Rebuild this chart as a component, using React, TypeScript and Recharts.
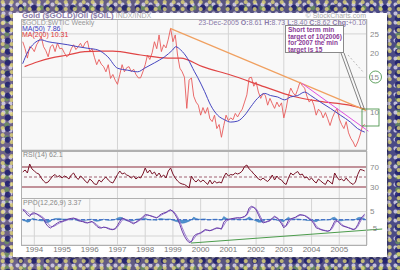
import React from 'react';
import { ComposedChart, Line, Area, XAxis, YAxis, CartesianGrid, ReferenceLine } from 'recharts';

// monthly closes from Aug 1993 to Dec 2005
const startYear = 1993;
const startMonth = 7;
const yearTicks = [1994, 1995, 1996, 1997, 1998, 1999, 2000, 2001, 2002, 2003, 2004, 2005];

const price = [
  22.8, 21, 18.8, 21.5, 21.2,
  20.3, 22, 23, 24.2, 21.5, 20.5, 19.1, 21.5, 22, 20.3, 22.4, 21,
  21.1, 20, 19.1, 19.5, 21, 22, 20.8, 21.5, 22.4, 21.2, 22.5, 23,
  20.3, 21, 19, 17.4, 18.5, 17.5, 17, 16, 17.4, 14.8, 15.5, 14.5,
  13.8, 15.5, 17.4, 16, 16.8, 17, 16, 16.5, 15.5, 14.9, 14.9, 16,
  17.4, 19.5, 18.5, 20, 22.8, 21, 24.7, 20.3, 22, 21.2, 23.5, 26.7,
  22.8, 24.7, 19.5, 16.7, 16, 15, 10.4, 14.5, 14.9, 12, 11.2, 10.8,
  9.6, 10.5, 9.8, 10.5, 9.2, 8.9, 9.6, 8.2, 8.6, 7.4, 8.5, 9.6,
  9.0, 9.3, 9.1, 9.8, 9.4, 9.9, 10.3, 11.2, 12.2, 14.9, 15, 13.5,
  14.2, 12.6, 11.7, 12.4, 12.1, 10.8, 11.7, 11.0, 10.4, 11.2, 10.6, 11.1,
  9.3, 10.4, 12.1, 13.2, 12.5, 12.1, 13.0, 14.2, 13.6, 13.2, 12.0, 11.2,
  11.6, 10.8, 9.6, 10.3, 10.0, 9.3, 9.9, 9.2, 8.5, 9.3, 9.9, 10.4,
  9.2, 8.6, 8.2, 8.9, 7.8, 7.3, 7.0, 6.6, 7.0, 7.6, 8.4, 8.62,
];

const rsi = [
  60, 64, 58, 76, 66,
  62, 58, 56, 48, 42, 38, 40, 46, 52, 55, 50, 53,
  48, 52, 50, 46, 54, 58, 50, 45, 52, 48, 42, 38,
  46, 42, 36, 35, 44, 40, 46, 50, 44, 40, 38, 46,
  55, 62, 56, 58, 54, 52, 48, 52, 46, 50, 48, 56,
  68, 58, 64, 56, 60, 52, 58, 50, 54, 48, 62, 68,
  56, 48, 42, 38, 36, 35, 32, 28, 52, 44, 40, 45,
  40, 44, 40, 35, 44, 36, 42, 38, 40, 38, 50, 58,
  52, 55, 54, 58, 56, 58, 62, 71, 74, 66, 62, 56,
  52, 46, 44, 48, 44, 41, 46, 54, 44, 52, 46, 44,
  38, 35, 48, 58, 54, 58, 61, 54, 56, 48, 50, 44,
  48, 42, 38, 46, 42, 38, 35, 44, 40, 36, 58, 50,
  44, 46, 42, 48, 42, 38, 35, 40, 55, 65, 64, 62,
];

const ppo = [
  6.0, 5.0, 3.0, 2.0, 4.0,
  4.2, 3.5, 2.5, 1.5, 0.5, -2.5, -4.2, -5.1, -4.0, -3.0, -2.0, -1.2,
  -1.0, -0.5, 0.0, 0.5, 0.8, 1.0, 0.5, -0.5, -1.0, -1.2, -1.8, -2.0,
  -1.5, -1.0, -2.5, -4.0, -5.0, -5.1, -4.5, -4.8, -5.5, -6.0, -6.1, -5.5,
  -3.5, -1.0, 1.0, 0.5, -0.5, -1.0, -1.8, -2.5, -1.5, -0.5, 0.5, 1.8,
  3.1, 3.0, 2.5, 2.0, 1.5, 1.0, 2.5, 3.5, 4.1, 4.5, 5.5, 6.1,
  5.0, 3.0, 0.5, -3.0, -7.0, -10.2, -12.5, -14.0, -13.5, -10.2, -9.0, -8.5,
  -8.0, -7.0, -6.0, -6.5, -6.8, -6.2, -5.5, -5.0, -5.3, -5.8, -1.5, 0.0,
  0.2, 0.5, 0.8, 1.0, 1.2, 1.0, 1.5, 2.0, 3.5, 7.2, 8.2, 7.5,
  6.0, 3.0, 0.0, -2.0, -1.5, -1.0, -0.5, 1.0, 2.1, 1.0, -0.5, -2.5,
  -5.0, -3.5, -0.5, 0.5, 1.0, 1.5, 2.5, 3.1, 2.8, 2.5, 1.5, 0.5,
  -0.5, -2.5, -5.0, -5.5, -6.1, -6.5, -6.8, -7.1, -6.5, -4.0, -1.0, -0.5,
  -2.0, -3.5, -4.1, -4.5, -5.0, -5.5, -6.1, -5.5, -3.0, 0.0, 2.0, 3.4,
];

const ppoSignal = [
  6.5, 5.8, 4.5, 3.2, 3.2,
  3.6, 3.6, 3.0, 2.2, 1.2, -0.5, -2.5, -4.0, -4.3, -3.7, -2.8, -2.0,
  -1.4, -0.9, -0.4, 0.1, 0.5, 0.8, 0.7, 0.2, -0.4, -0.9, -1.4, -1.8,
  -1.7, -1.3, -1.8, -3.0, -4.2, -4.8, -4.8, -4.7, -5.1, -5.6, -5.9, -5.7,
  -4.5, -2.5, -0.3, 0.4, 0.1, -0.5, -1.2, -1.9, -1.8, -1.0, -0.1, 1.0,
  2.2, 2.7, 2.6, 2.2, 1.7, 1.3, 1.9, 2.8, 3.6, 4.2, 5.0, 5.7,
  5.4, 4.0, 1.8, -1.2, -4.8, -8.2, -11.0, -13.0, -13.5, -11.8, -9.8, -8.9,
  -8.3, -7.5, -6.5, -6.3, -6.6, -6.4, -5.8, -5.3, -5.2, -5.5, -3.5, -1.0,
  -0.2, 0.3, 0.6, 0.9, 1.1, 1.1, 1.3, 1.8, 2.8, 5.5, 7.5, 7.7,
  6.8, 4.5, 1.5, -0.8, -1.6, -1.2, -0.7, 0.4, 1.6, 1.4, 0.2, -1.5,
  -3.8, -4.0, -2.0, 0.0, 0.8, 1.2, 2.0, 2.8, 2.9, 2.6, 2.0, 1.0,
  0.0, -1.5, -3.8, -5.0, -5.8, -6.3, -6.6, -6.9, -6.7, -5.2, -2.5, -0.8,
  -1.3, -2.8, -3.8, -4.3, -4.8, -5.3, -5.8, -5.7, -4.2, -1.5, 1.0, 2.6,
];

const ma50Dates = [1993.58, 1993.77, 1994.0, 1994.25, 1994.49, 1994.85, 1995.21, 1995.57, 1995.93, 1996.29, 1996.65, 1997.0, 1997.37, 1997.73, 1997.98, 1998.34, 1998.7, 1998.99, 1999.1, 1999.28, 1999.53, 1999.78, 1999.89, 2000.14, 2000.36, 2000.61, 2000.86, 2001.08, 2001.33, 2001.59, 2001.81, 2002.05, 2002.31, 2002.52, 2002.77, 2003.03, 2003.24, 2003.5, 2003.75, 2003.97, 2004.32, 2004.68, 2005.04, 2005.4, 2005.66, 2005.92];
const ma50Values = [17.6, 20.3, 22.4, 23.3, 22.8, 22.4, 22.0, 21.5, 21.1, 20.7, 19.1, 16.7, 16.3, 16.0, 16.7, 17.8, 19.1, 20.7, 21.5, 20.7, 18.7, 16.0, 15.0, 12.7, 10.8, 9.6, 9.1, 8.85, 8.95, 9.6, 10.6, 11.7, 12.4, 12.1, 11.9, 11.5, 11.9, 12.1, 12.6, 12.1, 11.2, 10.4, 9.6, 8.85, 8.2, 7.86];

const ma200Dates = [1993.65, 1994.13, 1994.59, 1995.21, 1995.82, 1996.4, 1996.83, 1997.84, 1998.81, 1999.28, 2000.07, 2001.08, 2002.31, 2003.32, 2004.29, 2005.37, 2005.92];
const ma200Values = [17.0, 18.0, 18.8, 19.5, 20.3, 20.4, 20.4, 19.5, 18.8, 18.8, 17.0, 15.4, 13.4, 12.0, 11.3, 10.8, 10.31];

const priceTicks = [10, 15, 20, 25];
const rsiTicks = [30, 50, 70];
const ppoTicks = [-10, -5, 0, 5];

const rows = price.map((p, i) => ({
  t: startYear + (startMonth + i) / 12,
  price: p,
  rsi: rsi[i],
  ppo: ppo[i],
  signal: ppoSignal[i],
  hist: ppo[i] - ppoSignal[i],
}));
const ma50 = ma50Dates.map((t, i) => ({ t, v: ma50Values[i] }));
const ma200 = ma200Dates.map((t, i) => ({ t, v: ma200Values[i] }));

const X_DOMAIN: [number, number] = [1993.52, 2006.0];
const FONT = '"Liberation Sans", Arial, sans-serif';
const tickStyle = { fontSize: 8, fill: '#888', fontFamily: FONT };

const bg =
  'radial-gradient(circle at 30% 30%, rgba(235,225,120,0.75) 0 1.5px, transparent 2.5px),' +
  'radial-gradient(circle at 60% 70%, rgba(30,30,110,0.85) 0 2.5px, transparent 3.5px),' +
  'radial-gradient(circle at 50% 50%, rgba(225,220,240,0.8) 0 1.5px, transparent 2.5px),' +
  'radial-gradient(circle at 40% 60%, rgba(110,160,80,0.65) 0 2px, transparent 3px),' +
  'linear-gradient(90deg, #6d628a, #5a5680 50%, #4a4a86)';

function Frame({ top, height }: { top: number; height: number }) {
  return (
    <div style={{ position: 'absolute', left: 21, top, width: 346, height, border: '1px solid #b0b0b0', boxSizing: 'border-box', pointerEvents: 'none' }} />
  );
}

export default function App() {
  return (
    <div style={{ position: 'fixed', left: 0, top: 0, width: 400, height: 270, background: bg, backgroundSize: '9px 7px, 13px 11px, 7px 9px, 17px 13px, 100% 100%', overflow: 'hidden', fontFamily: FONT }}>
      <div style={{ position: 'absolute', left: 13, top: 13, width: 374, height: 244, background: '#fff', boxShadow: '1px 1px 2px rgba(0,0,0,0.4)' }} />

      {/* price panel */}
      <div style={{ position: 'absolute', left: 21, top: 19 }}>
        <ComposedChart width={366} height={131} data={rows} margin={{ top: 0, right: 0, bottom: 0, left: 0 }}>
          <CartesianGrid stroke="#d4d4d4" fill="#f8f8f8" />
          <XAxis dataKey="t" type="number" domain={X_DOMAIN} ticks={yearTicks} hide allowDataOverflow />
          <YAxis orientation="right" width={20} scale="log" domain={[6.37, 29.8]} ticks={priceTicks} allowDataOverflow
            tick={tickStyle} tickLine={false} axisLine={false} tickSize={2} tickMargin={1} />
          <Line dataKey="price" stroke="#e85a5a" strokeWidth={0.9} dot={false} isAnimationActive={false} />
          <Line data={ma200} dataKey="v" type="monotone" stroke="#e04545" strokeWidth={1.2} dot={false} isAnimationActive={false} />
          <Line data={ma50} dataKey="v" type="monotone" stroke="#4646c0" strokeWidth={1} dot={false} isAnimationActive={false} />
          <ReferenceLine segment={[{ x: 1998.9, y: 26.7 }, { x: 2006.0, y: 10.1 }]} stroke="#f0a060" strokeWidth={1.2} ifOverflow="visible" />
          <ReferenceLine segment={[{ x: 2003.64, y: 14.0 }, { x: 2006.05, y: 7.95 }]} stroke="#e050e0" strokeWidth={1} ifOverflow="visible" />
        </ComposedChart>
      </div>
      <Frame top={19} height={132} />

      {/* RSI panel */}
      <div style={{ position: 'absolute', left: 21, top: 151 }}>
        <ComposedChart width={366} height={47} data={rows} margin={{ top: 0, right: 0, bottom: 0, left: 0 }}>
          <CartesianGrid stroke="#d4d4d4" fill="#f8f8f8" horizontal={false} />
          <XAxis dataKey="t" type="number" domain={X_DOMAIN} ticks={yearTicks} hide allowDataOverflow />
          <YAxis orientation="right" width={20} domain={[8, 102]} ticks={rsiTicks} allowDataOverflow
            tick={tickStyle} tickLine={false} axisLine={false} tickSize={2} tickMargin={1} />
          <ReferenceLine y={70} stroke="#8a2a3a" strokeWidth={1} />
          <ReferenceLine y={30} stroke="#8a2a3a" strokeWidth={1} />
          <ReferenceLine y={50} stroke="#a06070" strokeDasharray="3 2" />
          <Line dataKey="rsi" stroke="#7a1428" strokeWidth={1} dot={false} isAnimationActive={false} />
        </ComposedChart>
      </div>
      <Frame top={151} height={48} />

      {/* PPO panel */}
      <div style={{ position: 'absolute', left: 21, top: 198 }}>
        <ComposedChart width={366} height={59} data={rows} margin={{ top: 0, right: 0, bottom: 0, left: 0 }}>
          <CartesianGrid stroke="#d4d4d4" fill="#f8f8f8" />
          <XAxis dataKey="t" type="number" domain={X_DOMAIN} ticks={yearTicks} allowDataOverflow height={12}
            tick={{ ...tickStyle, fill: '#777' }} tickLine={false} axisLine={false} tickSize={0} tickMargin={1} interval={0} />
          <YAxis orientation="right" width={20} domain={[-15.5, 13.3]} ticks={ppoTicks} allowDataOverflow
            tick={tickStyle} tickLine={false} axisLine={false} tickSize={2} tickMargin={1} />
          <Area dataKey="hist" baseValue={0} stroke="#2f72b8" fill="#3d86c8" fillOpacity={0.9} strokeWidth={0.5} isAnimationActive={false} />
          <ReferenceLine y={0} stroke="#2f5fc0" strokeDasharray="4 2" />
          <Line dataKey="signal" stroke="#9a7ad0" strokeWidth={1} dot={false} isAnimationActive={false} />
          <Line dataKey="ppo" stroke="#6a3ea8" strokeWidth={1} dot={false} isAnimationActive={false} />
          <ReferenceLine segment={[{ x: 1999.65, y: -14.3 }, { x: 2006.55, y: -5.7 }]} stroke="#4c9c4c" strokeWidth={1} ifOverflow="visible" />
        </ComposedChart>
      </div>
      <Frame top={198} height={48} />

      {/* header texts */}
      <div style={{ position: 'absolute', left: 22, top: 11, fontSize: 8, fontWeight: 'bold', color: '#8a7aa8', whiteSpace: 'nowrap' }}>
        Gold ($GOLD)/Oil ($OIL) <span style={{ fontWeight: 'normal', fontSize: 7, color: '#aaa' }}>INDX/INDX</span>
      </div>
      <div style={{ position: 'absolute', left: 22, top: 19, fontSize: 7, color: '#999', whiteSpace: 'nowrap' }}>$GOLD:$WTIC Weekly</div>
      <div style={{ position: 'absolute', left: 22, top: 25, fontSize: 7, color: '#3b3bc0', whiteSpace: 'nowrap' }}>MA(50) 7.86</div>
      <div style={{ position: 'absolute', left: 22, top: 31, fontSize: 7, color: '#e03535', whiteSpace: 'nowrap' }}>MA(200) 10.31</div>
      <div style={{ position: 'absolute', right: 34, top: 12, fontSize: 7, color: '#aaa', whiteSpace: 'nowrap' }}>© StockCharts.com</div>
      <div style={{ position: 'absolute', right: 34, top: 19, fontSize: 7, color: '#8a7aa8', whiteSpace: 'nowrap' }}>
        23-Dec-2005 <b>O:</b>8.61 <b>H:</b>8.73 <b>L:</b>8.40 <b>C:</b>8.62 <b>Chg:</b>+0.10
      </div>
      <div style={{ position: 'absolute', left: 23, top: 151, fontSize: 7, color: '#888', whiteSpace: 'nowrap' }}>RSI(14) 62.1</div>
      <div style={{ position: 'absolute', left: 23, top: 199, fontSize: 7, color: '#888', whiteSpace: 'nowrap' }}>PPO(12,26,9) 3.37</div>

      {/* note box */}
      <div style={{ position: 'absolute', left: 285, top: 25, width: 59, height: 28, background: '#fff', border: '1px solid #8a8a8a', boxSizing: 'border-box', padding: '1px 2px', fontSize: 6.5, lineHeight: '6.6px', fontWeight: 'bold', color: '#8a3a96', whiteSpace: 'nowrap' }}>
        Short term min<br />target of 10(2006)<br />for 2007 the min<br />target is 15
      </div>

      {/* markup */}
      <svg width={400} height={270} style={{ position: 'absolute', left: 0, top: 0, pointerEvents: 'none' }}>
        <line x1={341} y1={53} x2={361} y2={108} stroke="#666" strokeWidth={0.8} />
        <line x1={344} y1={53} x2={364} y2={108} stroke="#666" strokeWidth={0.8} />
        <line x1={348} y1={55} x2={364} y2={73} stroke="#aaa" strokeWidth={0.8} strokeDasharray="2 2" />
        <circle cx={375.5} cy={77} r={6} fill="none" stroke="#3a8a3a" strokeWidth={0.8} />
        <rect x={362} y={109} width={17} height={17} fill="none" stroke="#3a8a3a" strokeWidth={0.8} />
      </svg>
    </div>
  );
}
